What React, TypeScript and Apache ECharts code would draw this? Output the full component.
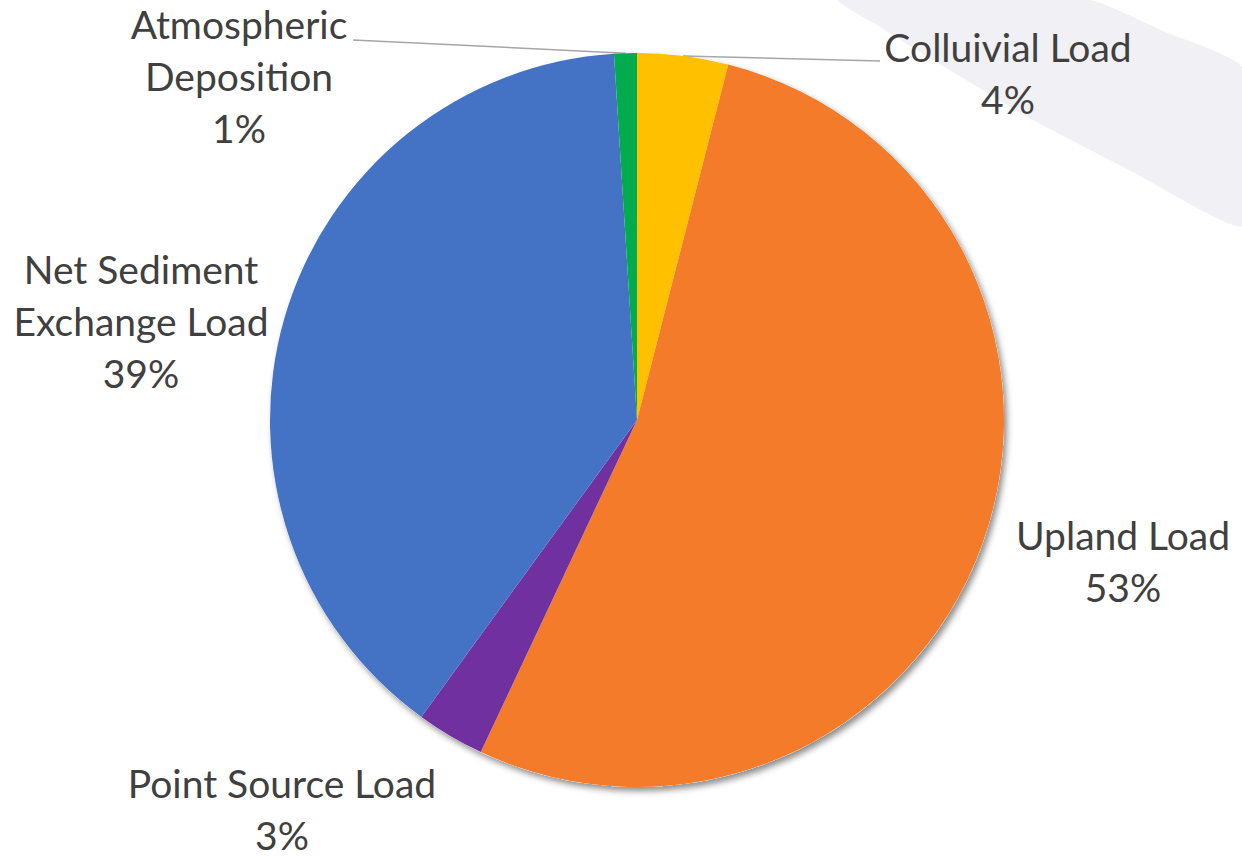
import React, { useEffect, useRef } from "react";
import * as echarts from "echarts";

// Load shares (percent of total)
const categories = [
  "Colluivial Load",
  "Upland Load",
  "Point Source Load",
  "Net Sediment\nExchange Load",
  "Atmospheric\nDeposition",
];
const shares = [4, 53, 3, 39, 1];
const colors = ["#FFC000", "#F37B2A", "#7030A0", "#4472C4", "#00AC4E"];

// Label anchor points (block centre) and whether a leader line is drawn
const labelCenters: [number, number][] = [
  [1008, 73],
  [1123, 561],
  [282, 809],
  [141, 321],
  [239, 76],
];
const leaderEnds: ([number, number] | null)[] = [
  [880, 61],
  null,
  null,
  null,
  [353, 40],
];

const CX = 637;
const CY = 420;
const R = 367;

// point on the pie rim at the middle of a slice
function rimPoint(index: number): [number, number] {
  const total = shares.reduce((a, b) => a + b, 0);
  let before = 0;
  for (let i = 0; i < index; i++) before += shares[i];
  const mid = ((before + shares[index] / 2) / total) * Math.PI * 2;
  return [CX + R * Math.sin(mid), CY - R * Math.cos(mid)];
}

export default function App() {
  const ref = useRef<HTMLDivElement>(null);

  useEffect(() => {
    document.body.style.margin = "0";
    const chart = echarts.init(ref.current!, null, { renderer: "svg" });
    const font = "Lato, 'Open Sans', sans-serif";

    chart.setOption({
      animation: false,
      backgroundColor: "#ffffff",
      graphic: [
        {
          // pale diagonal swoosh in the top-right corner
          type: "polygon",
          z: -10,
          silent: true,
          shape: {
            smooth: 0.15,
            points: [
              [838, 0],
              [880, 27],
              [933, 60],
              [1033, 120],
              [1133, 172],
              [1242, 226],
              [1242, 67],
              [1165, 32],
              [1090, 0],
            ],
          },
          style: { fill: "#F1F1F5" },
        },
      ],
      series: [
        {
          // soft drop shadow beneath the pie
          type: "pie",
          silent: true,
          z: 1,
          center: [CX, CY],
          radius: R,
          label: { show: false },
          labelLine: { show: false },
          itemStyle: {
            color: "#ffffff",
            shadowBlur: 6,
            shadowOffsetX: 3,
            shadowOffsetY: 4,
            shadowColor: "rgba(0,0,0,0.45)",
          },
          data: [{ value: 1 }],
        },
        {
          type: "pie",
          z: 2,
          center: [CX, CY],
          radius: R,
          startAngle: 90,
          clockwise: true,
          silent: true,
          itemStyle: { borderWidth: 0 },
          label: {
            show: true,
            position: "outside",
            fontFamily: font,
            fontSize: 39,
            lineHeight: 52,
            width: 420,
            overflow: "none",
            color: "#404040",
            align: "center",
            formatter: (p: any) => `${p.name}\n${p.value}%`,
          },
          labelLine: {
            show: true,
            smooth: false,
            lineStyle: { color: "#A6A6A6", width: 1.5 },
          },
          labelLayout: (p: any) => {
            const i = p.dataIndex;
            const out: any = {
              x: labelCenters[i][0],
              y: labelCenters[i][1],
              align: "center",
              verticalAlign: "middle",
            };
            const end = leaderEnds[i];
            if (end) {
              const s = rimPoint(i);
              out.labelLinePoints = [s, end, end];
            }
            return out;
          },
          data: categories.map((name, i) => ({
            name,
            value: shares[i],
            itemStyle: { color: colors[i] },
            labelLine: { show: leaderEnds[i] !== null },
          })),
        },
      ],
    });

    return () => chart.dispose();
  }, []);

  return <div ref={ref} style={{ width: 1242, height: 858 }} />;
}
